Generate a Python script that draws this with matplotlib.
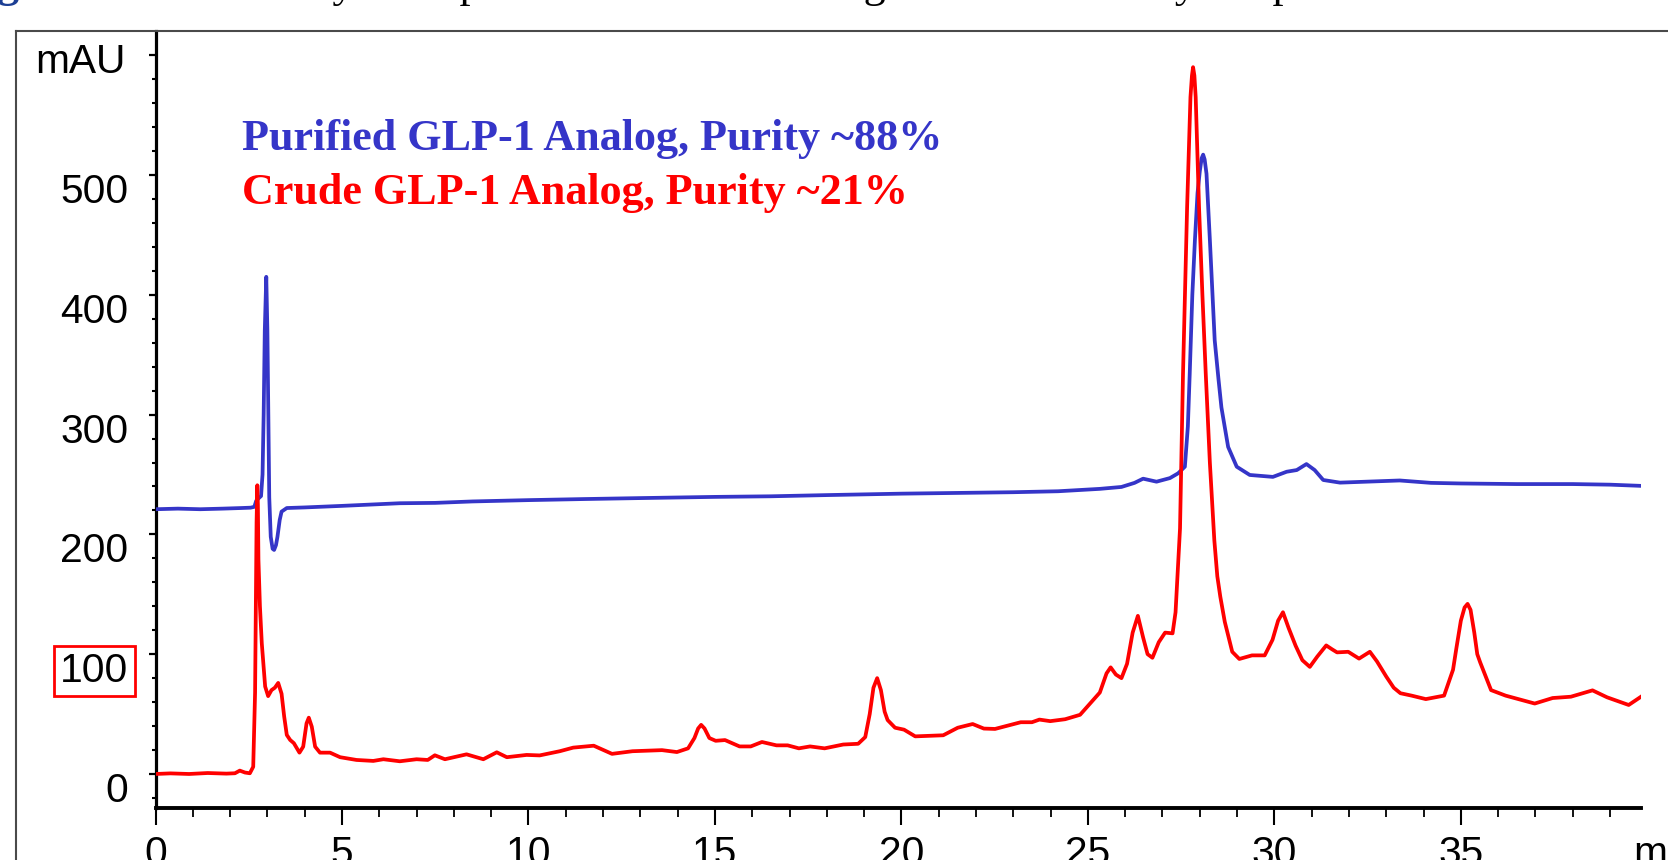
import matplotlib
matplotlib.use("Agg")
import matplotlib.pyplot as plt
from matplotlib.lines import Line2D
from matplotlib.ticker import FixedLocator
from matplotlib.transforms import ScaledTranslation

plt.rcParams["font.family"] = ["Liberation Sans", "DejaVu Sans"]

# ---------------------------------------------------------------------------
# Data (time in min, signal in mAU)
# ---------------------------------------------------------------------------
CRUDE_T = [0.0, 0.4, 0.9, 1.4, 1.9, 2.13, 2.26, 2.40, 2.53, 2.62, 2.67, 2.69, 2.71, 2.73,
           2.745, 2.76, 2.80, 2.85, 2.94, 3.02, 3.11, 3.20, 3.29, 3.38, 3.45, 3.52, 3.61,
           3.71, 3.86, 3.96, 4.05, 4.11, 4.19, 4.28, 4.41, 4.68, 4.95, 5.39, 5.84, 6.11,
           6.55, 7.0, 7.3, 7.49, 7.76, 8.34, 8.79, 9.15, 9.42, 9.95, 10.3, 10.84, 11.2,
           11.75, 12.24, 12.79, 13.58, 13.98, 14.28, 14.45, 14.55, 14.63, 14.72, 14.85,
           15.02, 15.27, 15.66, 15.96, 16.26, 16.65, 16.95, 17.25, 17.55, 17.94, 18.44,
           18.84, 19.03, 19.15, 19.25, 19.35, 19.45, 19.55, 19.63, 19.83, 20.07, 20.37,
           21.12, 21.51, 21.91, 22.21, 22.51, 23.2, 23.5, 23.7, 23.99, 24.39, 24.79,
           25.09, 25.32, 25.50, 25.61, 25.75, 25.90, 26.05, 26.2, 26.34, 26.48, 26.6,
           26.73, 26.9, 27.07, 27.27, 27.35, 27.41, 27.47, 27.55, 27.66, 27.75, 27.79,
           27.82, 27.855, 27.89, 27.98, 28.07, 28.16, 28.27, 28.39, 28.47, 28.55, 28.67,
           28.87, 29.06, 29.4, 29.74, 29.95, 30.1, 30.23, 30.38, 30.57, 30.75, 30.95,
           31.15, 31.39, 31.55, 31.68, 31.98, 32.27, 32.56, 32.75, 33.0, 33.2, 33.38,
           33.68, 34.06, 34.55, 34.79, 34.88, 35.0, 35.1, 35.18, 35.26, 35.36, 35.44,
           35.52, 35.81, 36.2, 36.98, 37.46, 37.95, 38.53, 38.92, 39.5, 39.83]
CRUDE_V = [0, 0.5, 0, 0.8, 0.3, 0.6, 2.8, 1.2, 0.6, 6, 68, 137, 210, 241,
           225, 179, 140, 109, 73, 65, 70, 72, 76, 67, 48, 32.6, 28.4,
           25.7, 17.8, 22.8, 42.3, 47, 39.5, 22.8, 17.8, 17.8, 14, 11.7, 10.9, 12.3,
           10.6, 12.3, 11.7, 15.6, 12.3, 16.4, 12.3, 18.1, 14, 15.9, 15.5, 19, 22,
           23.6, 16.8, 19, 19.9, 18.3, 21.4, 30, 38, 41, 38, 30,
           27.7, 28.3, 23, 23, 26.7, 23.9, 23.9, 21.4, 23, 21.4, 24.6,
           25.2, 30.8, 50, 72, 80, 70, 52, 45, 38.6, 37, 31.4,
           32.3, 38.6, 41.7, 37.9, 37.6, 43.2, 43.2, 45.4, 44.1, 45.7, 49.4,
           60, 68, 84, 89, 83, 80, 92, 118, 132, 114, 100,
           97, 110, 118, 117.4, 135, 170, 205, 334, 473, 565, 583,
           590, 583, 565, 473, 400, 334, 260, 195, 165, 148, 127,
           102, 96, 99, 99, 112, 128, 135, 122, 107, 95, 89.4,
           98, 107.3, 104, 101.5, 102, 96.3, 102, 94, 81.3, 72, 67.4,
           65.4, 62.5, 65.4, 87, 105, 128, 139, 142, 137, 118, 100,
           93, 70, 65.4, 58.8, 63.4, 64.5, 69.8, 64, 57.6, 64.5]

PURIFIED_T = [0.0, 0.6, 1.2, 1.8, 2.3, 2.55, 2.65, 2.70, 2.76, 2.83, 2.87, 2.90, 2.93,
              2.97, 3.00, 3.02, 3.05, 3.09, 3.14, 3.18, 3.23, 3.27, 3.33, 3.38, 3.52,
              4.0, 5.0, 6.55, 7.5, 8.5, 10.0, 11.5, 13.0, 15.0, 16.5, 18.0, 20.0, 21.5,
              23.0, 24.2, 25.32, 25.9, 26.25, 26.48, 26.84, 27.2, 27.42, 27.6, 27.68,
              27.73, 27.80, 27.87, 27.94, 28.0, 28.05, 28.09, 28.13, 28.18, 28.27, 28.4,
              28.5, 28.58, 28.76, 28.99, 29.34, 29.96, 30.33, 30.6, 30.86, 31.08, 31.31,
              31.76, 32.47, 33.36, 34.2, 35.0, 36.5, 38.0, 39.0, 39.83]
PURIFIED_V = [221, 221.5, 221, 221.5, 222, 222.3, 223, 228, 230, 232, 250, 300, 370,
              415, 370, 315, 231, 198, 188, 187, 191, 198, 212, 219, 222,
              222.5, 223.8, 226, 226.3, 227.5, 228.6, 229.5, 230.3, 231.3, 231.8, 232.8,
              234, 234.6, 235.2, 236, 238, 239.6, 243, 246.5, 244, 247, 251, 256.5, 290,
              334, 400, 446, 485, 503, 514, 517, 513, 501, 446, 362,
              330, 306, 273, 256.5, 249.6, 248, 252.3, 253.7, 258.7, 253.7, 245.4,
              243.2, 244, 245, 243, 242.5, 242, 242, 241.5, 240.5]

X_TICKS = [0, 5, 10, 15, 20, 25, 30, 35]
Y_TICKS = [0, 100, 200, 300, 400, 500, 600]
Y_TICK_LABELS = ["0", "100", "200", "300", "400", "500", "mAU"]
Y_MINOR = [-20, 20, 40, 60, 80, 120, 140, 160, 180, 220, 240, 260, 280,
           320, 340, 360, 380, 420, 440, 460, 480, 520, 540, 560, 580]

LEGEND_LINES = ["Purified GLP-1 Analog, Purity ~88%", "Crude GLP-1 Analog, Purity ~21%"]
CAPTION_HEAD = "Figure 1."
CAPTION_BODY = " HPLC analysis of purified vs crude analog once obtained by the purification"

BLUE = "#3535c8"
RED = "#ff0000"
W, H = 1668, 860


def tick_color(v):
    if v >= 300:
        return "black"
    if v >= 200:
        return BLUE
    return RED


fig = plt.figure(figsize=(W / 100, H / 100), dpi=100)
ax = fig.add_axes([155.5 / W, 1 - 808 / H, (1641 - 155.5) / W, (808 - 31) / H])

ax.plot(PURIFIED_T, PURIFIED_V, color=BLUE, lw=2.7, solid_joinstyle="round", zorder=3)
ax.plot(CRUDE_T, CRUDE_V, color=RED, lw=2.7, solid_joinstyle="round", zorder=4)

ax.set_xlim(0, 39.83)
ax.set_ylim(-28.4, 620.2)

ax.spines["top"].set_visible(False)
ax.spines["right"].set_visible(False)
ax.spines["left"].set_linewidth(2.3)
ax.spines["bottom"].set_linewidth(2.8)

# x axis
ax.set_xticks(X_TICKS)
ax.xaxis.set_minor_locator(FixedLocator(range(0, 40)))
ax.tick_params(axis="x", which="major", direction="out", length=12.2, width=1.5,
               pad=7, labelsize=29.3, top=False)
ax.tick_params(axis="x", which="minor", direction="out", length=6.5, width=1.3, top=False)
fig.text(1633 / W, 1 - 865 / H, "min", fontsize=29.3, va="baseline", ha="left")

# y axis: ticks coloured like the overlaid chromatograms
ax.yaxis.set_major_locator(FixedLocator(Y_TICKS))
ax.yaxis.set_minor_locator(FixedLocator(Y_MINOR))
ax.tick_params(axis="y", which="major", direction="out", length=5, width=1.6,
               labelleft=False, right=False)
ax.tick_params(axis="y", which="minor", direction="out", length=2.6, width=1.5, right=False)
for v, tk in zip(Y_TICKS, ax.yaxis.get_major_ticks()):
    tk.tick1line.set_color(tick_color(v))
for v, tk in zip(Y_MINOR, ax.yaxis.get_minor_ticks()):
    tk.tick1line.set_color(tick_color(v))

ytrans = ax.get_yaxis_transform()
for v, lab in zip(Y_TICKS, Y_TICK_LABELS):
    if lab == "mAU":
        off = ScaledTranslation(-0.295, -0.177, fig.dpi_scale_trans)
    else:
        off = ScaledTranslation(-0.27, -0.28, fig.dpi_scale_trans)
    kw = {}
    if lab == "100":
        kw["bbox"] = dict(boxstyle="square,pad=0.15", fc="none", ec=RED, lw=2)
    ax.text(0, v, lab, transform=ytrans + off, ha="right", va="baseline",
            fontsize=29.3, clip_on=False, **kw)

# legend text
serif = ["Liberation Serif", "DejaVu Serif"]
fig.text(242 / W, 1 - 150 / H, LEGEND_LINES[0], color=BLUE, family=serif,
         fontweight="bold", fontsize=31.8, va="baseline")
fig.text(242 / W, 1 - 204 / H, LEGEND_LINES[1], color=RED, family=serif,
         fontweight="bold", fontsize=31.8, va="baseline")

# outer frame of the screenshot: only its left and top edges fall inside the crop.
# drawn above the axes so the axes background does not hide half of the top edge
frame_x, frame_top = 16 / W, 1 - 31 / H
fig.add_artist(Line2D([frame_x, frame_x], [-0.05, frame_top], transform=fig.transFigure,
                      color="#4a4a4a", lw=1.5, solid_capstyle="projecting", zorder=5))
fig.add_artist(Line2D([frame_x, 1.05], [frame_top, frame_top], transform=fig.transFigure,
                      color="#4a4a4a", lw=1.5, solid_capstyle="projecting", zorder=5))

# caption above the frame, mostly cut off by the crop
head = fig.text(-42.5 / W, 1 + 3 / H, CAPTION_HEAD, color="#1c3f94", family=serif,
                fontweight="bold", fontsize=31.7, va="baseline")
ax.annotate(CAPTION_BODY, xy=(1, 0), xycoords=head, va="bottom", ha="left",
            family=serif, fontsize=31.7, color="black", annotation_clip=False)

fig.savefig("out.png", dpi=100)
